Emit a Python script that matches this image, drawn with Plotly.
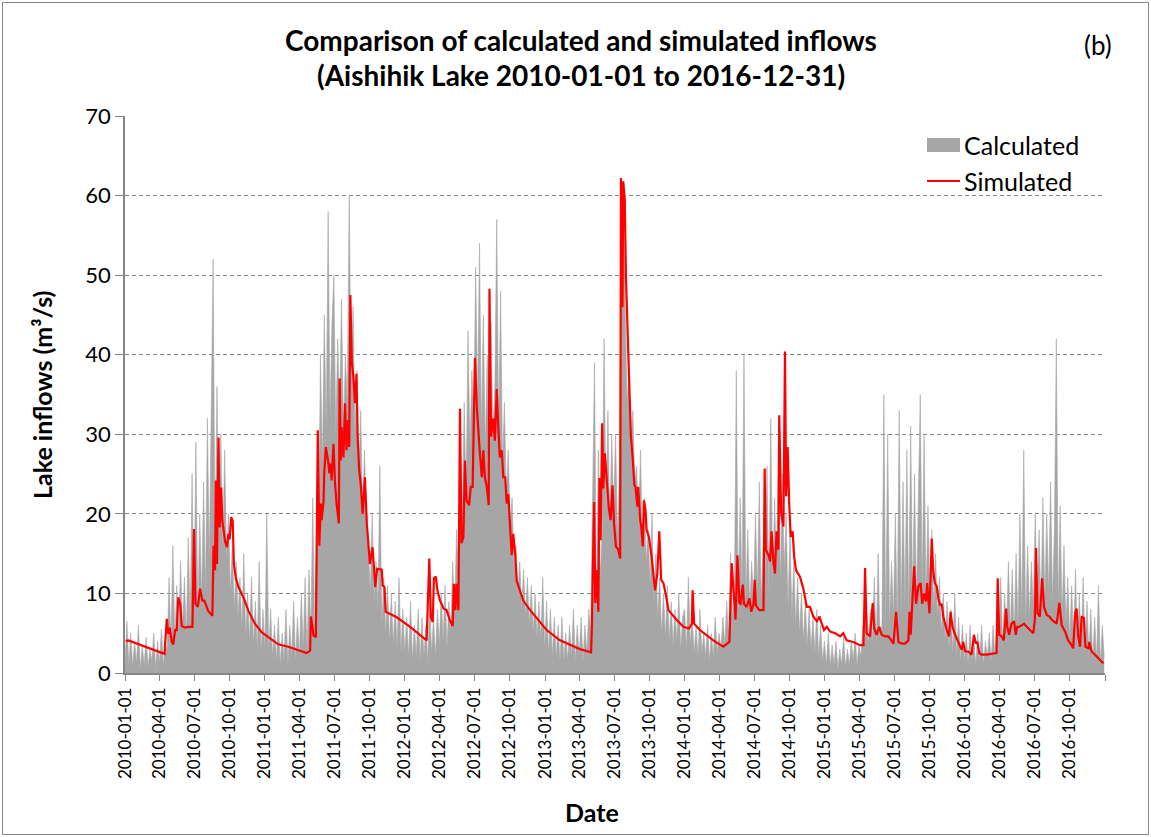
import pandas as pd
import plotly.graph_objects as go

START = pd.Timestamp("2010-01-01")

# Calculated inflows (m3/s), one value every 5 days, one list per year
calc_2010 = [1.5, 6.5, 1.0, 5.0, 0.8, 4.0,
             1.2, 6.0, 0.5, 3.5, 1.0, 4.5,
             0.8, 3.0, 1.5, 5.0, 0.6, 4.0,
             1.2, 5.5, 1.0, 3.5, 3.0, 12.0,
             3.5, 16.0, 4.0, 11.0, 5.0, 14.0,
             5.5, 12.0, 4.5, 17.0, 6.0, 25.0,
             8.0, 29.0, 7.0, 20.0, 9.0, 24.0,
             10.0, 32.0, 14.0, 30.0, 52.0, 15.0,
             36.0, 16.0, 30.0, 15.0, 28.0, 14.0,
             20.0, 10.0, 16.0, 8.0, 14.0, 7.0,
             12.0, 5.5, 15.0, 4.5, 10.0, 4.0,
             12.0, 3.5, 9.0, 3.0, 14.0, 2.5, 8.0]
calc_2011 = [3.0, 20.0, 2.5, 8.0, 2.0, 6.0,
             1.5, 7.0, 1.0, 5.0, 1.5, 8.0,
             1.0, 6.0, 2.0, 9.0, 1.5, 7.0,
             2.0, 10.0, 3.0, 12.0, 2.5, 13.0,
             5.0, 22.0, 4.0, 20.0, 16.0, 40.0,
             26.0, 45.0, 30.0, 58.0, 32.0, 44.0,
             50.0, 30.0, 42.0, 33.0, 47.0, 30.0,
             40.0, 34.0, 60.0, 36.0, 46.0, 30.0,
             38.0, 24.0, 33.0, 20.0, 28.0, 18.0,
             16.0, 10.0, 20.0, 9.0, 14.0, 8.0,
             26.0, 6.0, 12.0, 5.0, 11.0, 4.0,
             10.0, 3.5, 9.0, 3.0, 12.0, 2.5, 8.0]
calc_2012 = [2.5, 7.0, 2.0, 9.0, 1.5, 6.0,
             2.0, 8.0, 1.5, 7.0, 2.0, 6.0,
             1.5, 9.0, 2.5, 7.0, 2.0, 8.0,
             3.5, 10.0, 4.0, 11.0, 3.0, 9.0,
             5.0, 14.0, 7.0, 18.0, 12.0, 30.0,
             18.0, 34.0, 22.0, 43.0, 28.0, 38.0,
             32.0, 51.0, 34.0, 54.0, 30.0, 45.0,
             28.0, 40.0, 25.0, 44.0, 30.0, 36.0,
             57.0, 30.0, 48.0, 26.0, 34.0, 22.0,
             28.0, 18.0, 22.0, 13.0, 16.0, 10.0,
             14.0, 8.0, 13.0, 7.0, 12.0, 6.0,
             11.0, 5.0, 10.0, 4.5, 9.0, 4.0, 12.0]
calc_2013 = [3.0, 9.0, 2.5, 8.0, 2.0, 7.0,
             2.0, 6.0, 1.5, 7.0, 1.5, 5.0,
             1.5, 6.0, 2.0, 8.0, 1.5, 6.0,
             2.0, 7.0, 1.5, 6.0, 2.5, 8.0,
             5.0, 22.0, 39.0, 9.0, 28.0, 12.0,
             18.0, 42.0, 20.0, 33.0, 18.0, 30.0,
             20.0, 30.0, 17.0, 25.0, 55.0, 58.0,
             45.0, 34.0, 38.0, 28.0, 33.0, 24.0,
             26.0, 18.0, 28.0, 16.0, 22.0, 14.0,
             18.0, 11.0, 20.0, 9.0, 15.0, 7.0,
             12.0, 5.0, 10.0, 4.5, 11.0, 4.0,
             9.0, 3.5, 8.0, 4.0, 10.0, 3.0, 7.0]
calc_2014 = [8.0, 3.0, 12.0, 3.5, 7.0, 2.5,
             6.0, 2.0, 8.0, 2.5, 5.0, 2.0,
             6.0, 1.5, 5.0, 2.0, 7.0, 2.5,
             5.0, 3.0, 7.0, 3.5, 9.0, 4.0,
             15.0, 7.0, 9.0, 38.0, 8.0, 22.0,
             10.0, 40.0, 9.0, 18.0, 8.0, 14.0,
             9.0, 20.0, 10.0, 24.0, 9.0, 16.0,
             12.0, 26.0, 10.0, 32.0, 11.0, 22.0,
             12.0, 30.0, 11.0, 25.0, 13.0, 20.0,
             8.0, 18.0, 7.0, 14.0, 6.0, 12.0,
             5.0, 10.0, 4.0, 9.0, 3.5, 8.0,
             3.0, 7.0, 2.5, 8.0, 2.0, 6.0, 1.5]
calc_2015 = [4.0, 1.0, 5.0, 0.8, 3.5, 1.0,
             4.0, 0.5, 3.0, 1.0, 4.5, 0.8,
             3.0, 1.0, 4.0, 1.5, 5.0, 1.0,
             3.5, 2.0, 6.0, 3.0, 9.0, 3.5,
             8.0, 4.0, 12.0, 3.5, 15.0, 4.5,
             6.0, 35.0, 5.0, 30.0, 6.0, 14.0,
             7.0, 20.0, 6.0, 33.0, 7.0, 24.0,
             8.0, 28.0, 7.0, 31.0, 9.0, 25.0,
             9.0, 22.0, 35.0, 10.0, 30.0, 9.0,
             21.0, 10.0, 18.0, 8.0, 15.0, 7.0,
             12.0, 5.0, 10.0, 4.0, 9.0, 3.0,
             8.0, 2.5, 10.0, 2.0, 7.0, 1.5, 6.0]
calc_2016 = [1.5, 5.0, 1.0, 6.0, 1.5, 4.0,
             1.0, 5.0, 1.5, 6.0, 1.0, 4.0,
             2.0, 5.0, 1.5, 6.0, 2.0, 7.0,
             4.0, 12.0, 3.5, 10.0, 5.0, 14.0,
             5.0, 13.0, 4.5, 15.0, 6.0, 20.0,
             7.0, 28.0, 6.0, 16.0, 7.0, 14.0,
             8.0, 20.0, 9.0, 18.0, 8.0, 22.0,
             9.0, 20.0, 10.0, 24.0, 9.0, 18.0,
             42.0, 8.0, 21.0, 7.0, 16.0, 6.0,
             12.0, 4.0, 11.0, 3.5, 13.0, 3.0,
             10.0, 3.0, 12.0, 2.5, 9.0, 2.0,
             8.0, 1.5, 7.0, 1.5, 11.0, 1.0, 6.0, 2.0]

# Simulated inflows: (day since 2010-01-01, m3/s)
sim_points = [
    (2, 4.0), (9, 4.1), (103, 2.4), (109, 6.8), (113, 4.9), (117, 5.7), (122, 3.9), (126, 3.6), (131, 5.5), (135, 5.3),
    (139, 9.5), (144, 8.7), (148, 5.9), (157, 5.7), (165, 5.8), (176, 5.8), (180, 18.1), (184, 8.7), (190, 8.3), (196, 10.6),
    (202, 9.1), (207, 9.1), (217, 7.8), (228, 7.2), (231, 16.0), (235, 12.9), (237, 24.2), (240, 13.7), (244, 29.6), (247, 18.3),
    (251, 23.3), (254, 19.1), (261, 16.6), (266, 15.8), (270, 17.5), (273, 16.8), (277, 19.6), (281, 19.1), (284, 13.7), (289, 12.0),
    (296, 10.8), (309, 9.5), (322, 7.8), (339, 6.2), (357, 5.1),
    (374, 4.5), (400, 3.6), (426, 3.3), (452, 2.9), (474, 2.5), (483, 2.8), (485, 7.1), (489, 5.8), (492, 4.7), (498, 4.5),
    (503, 30.5), (507, 16.0), (511, 21.3), (513, 19.2), (518, 21.5), (520, 25.3), (524, 28.4), (531, 26.3), (533, 25.1), (537, 26.3),
    (539, 24.2), (544, 28.8), (548, 23.8), (552, 21.3), (558, 18.8), (560, 37.0), (563, 26.7), (565, 30.9), (570, 27.1), (574, 33.9),
    (578, 28.0), (582, 31.8), (585, 28.4), (588, 47.5), (592, 38.9), (596, 37.2), (600, 33.9), (604, 37.6), (607, 29.7), (611, 25.5),
    (615, 23.8), (620, 20.0), (626, 24.6), (631, 18.8), (639, 13.7), (646, 15.8), (650, 12.9), (653, 10.8), (658, 13.1), (665, 13.0),
    (670, 13.0), (672, 11.0), (677, 10.8), (680, 7.7), (709, 7.0),
    (744, 5.8), (787, 4.1), (794, 14.4), (798, 7.0), (803, 6.4), (806, 11.9), (811, 12.1), (815, 10.4), (822, 9.1), (831, 8.1),
    (839, 7.9), (848, 6.6), (855, 5.9), (858, 11.2), (862, 7.9), (865, 11.2), (870, 7.9), (874, 33.2), (878, 16.3), (883, 17.1),
    (887, 26.7), (891, 21.7), (898, 21.1), (902, 23.4), (907, 23.4), (909, 28.0), (913, 39.6), (918, 33.4), (922, 30.1), (926, 27.6),
    (931, 24.6), (935, 28.0), (939, 24.6), (944, 23.4), (949, 21.1), (951, 48.3), (955, 29.7), (961, 32.0), (965, 29.2), (970, 35.7),
    (974, 30.9), (978, 27.1), (983, 28.0), (987, 24.6), (992, 24.6), (996, 21.3), (1000, 22.5), (1005, 17.1), (1009, 14.8), (1013, 17.5),
    (1018, 15.0), (1022, 11.6), (1039, 9.1), (1057, 7.9), (1083, 6.4),
    (1100, 5.4), (1135, 4.1), (1170, 3.3), (1187, 3.0), (1216, 2.6), (1218, 5.4), (1224, 21.5), (1227, 8.8), (1231, 12.9), (1235, 7.7),
    (1238, 24.5), (1241, 16.7), (1245, 31.4), (1248, 23.2), (1252, 27.6), (1257, 24.3), (1262, 20.9), (1267, 19.2), (1272, 23.6), (1276, 18.8),
    (1281, 15.9), (1287, 15.5), (1292, 14.4), (1294, 62.2), (1298, 46.0), (1300, 61.8), (1304, 59.4), (1307, 49.8), (1312, 41.0), (1316, 35.1),
    (1320, 29.7), (1325, 26.8), (1329, 23.6), (1332, 23.4), (1337, 20.9), (1339, 23.4), (1344, 19.2), (1347, 18.4), (1351, 15.9), (1354, 21.7),
    (1358, 20.5), (1361, 18.0), (1367, 17.1), (1374, 14.6), (1383, 10.4), (1389, 12.5), (1394, 17.8), (1399, 11.7), (1405, 11.3), (1412, 9.6),
    (1418, 7.9), (1439, 6.7), (1457, 5.8),
    (1472, 5.6), (1479, 6.2), (1481, 10.4), (1485, 6.2), (1500, 5.4), (1535, 4.1), (1561, 3.3), (1577, 3.9), (1583, 13.8), (1587, 10.4),
    (1593, 6.7), (1598, 14.8), (1603, 8.8), (1606, 8.7), (1612, 11.1), (1615, 8.7), (1622, 8.3), (1629, 9.4), (1634, 7.7), (1640, 8.7),
    (1643, 11.7), (1646, 8.5), (1655, 7.9), (1666, 7.9), (1669, 25.7), (1672, 15.5), (1679, 14.8), (1683, 14.0), (1687, 17.8), (1692, 13.8),
    (1696, 12.5), (1700, 17.8), (1705, 15.5), (1707, 32.4), (1712, 20.1), (1718, 18.4), (1722, 40.4), (1725, 22.2), (1729, 28.4), (1733, 21.3),
    (1737, 17.1), (1742, 17.8), (1746, 14.6), (1751, 12.9), (1757, 12.5), (1761, 12.1), (1770, 10.6), (1779, 8.3), (1787, 8.3), (1796, 7.1),
    (1805, 6.5), (1812, 7.1), (1818, 6.2), (1824, 5.4),
    (1831, 5.8), (1840, 5.2), (1853, 5.0), (1866, 4.6), (1874, 5.0), (1883, 4.1), (1900, 3.9), (1918, 3.5), (1927, 3.5), (1931, 13.2),
    (1935, 5.0), (1944, 4.6), (1951, 8.8), (1955, 5.6), (1961, 4.8), (1968, 5.8), (1974, 4.8), (1983, 4.6), (1992, 4.6), (1998, 4.1),
    (2005, 3.7), (2012, 7.7), (2018, 3.9), (2027, 3.7), (2035, 3.7), (2044, 4.1), (2047, 7.7), (2050, 4.8), (2055, 9.2), (2059, 13.4),
    (2064, 8.7), (2070, 10.9), (2076, 11.3), (2080, 8.7), (2085, 10.0), (2090, 9.0), (2093, 11.3), (2099, 7.5), (2105, 16.9), (2109, 12.7),
    (2113, 11.3), (2118, 10.9), (2122, 9.4), (2127, 8.5), (2131, 8.7), (2135, 7.1), (2144, 5.4), (2150, 4.6), (2154, 7.7), (2159, 5.8),
    (2166, 4.8), (2174, 3.9), (2183, 2.9), (2187, 3.9),
    (2192, 2.7), (2200, 2.7), (2209, 2.3), (2215, 4.8), (2220, 3.7), (2224, 3.9), (2229, 2.5), (2235, 2.3), (2248, 2.3), (2274, 2.5),
    (2277, 11.9), (2281, 4.8), (2287, 4.6), (2293, 4.1), (2299, 8.1), (2302, 5.8), (2307, 4.8), (2313, 6.2), (2320, 6.5), (2324, 4.8),
    (2328, 5.8), (2333, 5.8), (2340, 6.0), (2346, 6.2), (2353, 5.8), (2361, 5.4), (2370, 5.0), (2374, 6.7), (2377, 15.7), (2381, 7.5),
    (2387, 7.1), (2393, 11.9), (2398, 8.3), (2405, 7.3), (2412, 7.1), (2418, 6.7), (2424, 6.5), (2431, 6.2), (2438, 8.8), (2444, 6.0),
    (2453, 5.2), (2461, 4.1), (2470, 3.5), (2474, 3.1), (2479, 7.5), (2483, 8.1), (2487, 4.6), (2492, 3.3), (2496, 7.1), (2502, 6.9),
    (2506, 3.3), (2514, 3.1), (2516, 3.9), (2522, 2.7), (2531, 2.3), (2540, 1.8), (2548, 1.4), (2553, 1.2),
]

tick_dates = list(pd.date_range("2010-01-01", "2016-10-01", freq="QS")) + [pd.Timestamp("2017-01-01")]
tick_labels = [d.strftime("%Y-%m-%d") for d in tick_dates[:-1]] + [""]

title_line1 = "Comparison of calculated and simulated inflows"
title_line2 = "(Aishihik Lake 2010-01-01 to 2016-12-31)"

calc_values = calc_2010 + calc_2011 + calc_2012 + calc_2013 + calc_2014 + calc_2015 + calc_2016
calc_dates = pd.date_range(START, periods=len(calc_values), freq="5D")
sim_dates = [START + pd.Timedelta(days=d) for d, _ in sim_points]
sim_values = [v for _, v in sim_points]

W, H = 1151, 837
L, R, T, B = 125, 1105, 116, 673


def px(x):
    return (x - L) / (R - L)


def py(y):
    return (B - y) / (B - T)


FONT = "Lato"
GREY = "#A6A6A6"
AXIS = "#868686"

fig = go.Figure()
fig.add_trace(go.Scatter(x=calc_dates, y=calc_values, mode="lines", fill="tozeroy",
                         line=dict(color=GREY, width=0.6), fillcolor=GREY,
                         name="Calculated", showlegend=False, hoverinfo="skip"))
fig.add_trace(go.Scatter(x=sim_dates, y=sim_values, mode="lines",
                         line=dict(color="#FF0000", width=2.2),
                         name="Simulated", showlegend=False))

fig.update_layout(
    width=W, height=H,
    margin=dict(l=L, r=W - R, t=T, b=H - B, pad=0),
    paper_bgcolor="white", plot_bgcolor="white",
    font=dict(family=FONT, color="black"),
    showlegend=False,
)
fig.update_xaxes(type="date", range=[START, pd.Timestamp("2017-01-01")],
                 tickmode="array", tickvals=tick_dates, ticktext=tick_labels,
                 tickangle=-90, tickfont=dict(size=17, family=FONT, color="black"),
                 ticks="outside", ticklen=6, tickcolor=AXIS,
                 showline=True, linecolor=AXIS, linewidth=1.5,
                 showgrid=False, zeroline=False)
fig.update_yaxes(range=[0, 70], dtick=10, tick0=0,
                 tickfont=dict(size=22, family=FONT, color="black"),
                 ticks="outside", ticklen=8, tickcolor=AXIS,
                 showline=True, linecolor=AXIS, linewidth=1.5,
                 showgrid=True, gridcolor=AXIS, griddash="4px,3px", gridwidth=1,
                 zeroline=False)

ann = [
    dict(x=px(581), y=py(40), text="<b>" + title_line1 + "</b>", font=dict(size=28)),
    dict(x=px(581), y=py(75), text="<b>" + title_line2 + "</b>", font=dict(size=28)),
    dict(x=px(1098), y=py(45), text="(b)", font=dict(size=26)),
    dict(x=px(42), y=py(395), text="<b>Lake inflows (m³/s)</b>", textangle=-90, font=dict(size=25)),
    dict(x=px(592), y=py(812), text="<b>Date</b>", font=dict(size=25)),
    dict(x=px(962), y=py(145), text="Calculated", xanchor="left", font=dict(size=25)),
    dict(x=px(962), y=py(181), text="Simulated", xanchor="left", font=dict(size=25)),
]
for a in ann:
    a.setdefault("xanchor", "center")
    fig.add_annotation(xref="paper", yref="paper", showarrow=False, yanchor="middle",
                       font=dict(family=FONT, color="black", size=a["font"]["size"]),
                       **{k: v for k, v in a.items() if k != "font"})

fig.add_shape(type="rect", xref="paper", yref="paper", x0=px(927), x1=px(960), y0=py(152), y1=py(138),
              fillcolor=GREY, line=dict(width=0))
fig.add_shape(type="line", xref="paper", yref="paper", x0=px(927), x1=px(960), y0=py(181), y1=py(181),
              line=dict(color="#FF0000", width=2.2))
fig.add_shape(type="rect", xref="paper", yref="paper", x0=px(2.5), x1=px(1148.5), y0=py(834.5), y1=py(2.5),
              line=dict(color=AXIS, width=1), fillcolor="rgba(0,0,0,0)", layer="below")

fig.write_html("out.html")
